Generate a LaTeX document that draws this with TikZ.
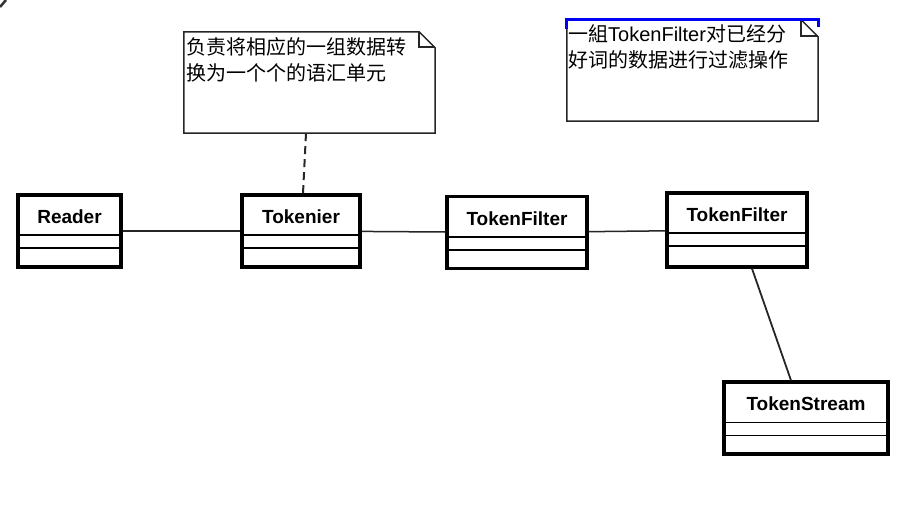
\documentclass[tikz,border=0pt]{standalone}
\usepackage{fontspec}
\setmainfont{Liberation Sans}
\newfontfamily\cjk{Noto Sans CJK SC}
\usetikzlibrary{calc}
\newcommand\umlcls[6]{%
  \node[classbox, minimum width=#4, minimum height=#5] (#1) at (#2,#3) {};
  \node[classname, anchor=base] (#1-name) at ($(#1.north)+(0,30.5)$) {#6};
  \draw[compline] ($(#1.north west)+(0,42)$) -- ($(#1.north east)+(0,42)$);
  \draw[compline] ($(#1.north west)+(0,55)$) -- ($(#1.north east)+(0,55)$);
}
\begin{document}
\begin{tikzpicture}[x=1pt,y=-1pt,
  classbox/.style={draw=black, rectangle, line width=3.2pt, inner sep=0pt, fill=white},
  classname/.style={font=\fontsize{19}{22}\selectfont\bfseries, inner sep=0pt},
  compline/.style={line width=1.8pt, black},
  notearea/.style={rectangle, inner sep=0pt},
  noteline/.style={line width=1.5pt, black!85, line join=miter},
  notetext/.style={font=\fontsize{20}{26}\selectfont, inner sep=0pt, anchor=base west, text=black},
  assoc/.style={line width=1.5pt, black!85},
  dashline/.style={line width=2pt, black!85, dash pattern=on 8pt off 5pt},
]
\useasboundingbox (0,0) rectangle (922,524);
\fill[white] (0,0) rectangle (922,524);

% stray mark top-left
\draw[line width=2.5pt, black!80] (0,7) -- (6,0);

% classes
\umlcls{reader}{69.5}{231}{103}{72}{Reader}
\umlcls{tokenier}{301}{231}{118}{72}{Tokenier}
\umlcls{tf1}{517}{232.5}{140}{72}{TokenFilter}
\umlcls{tf2}{737}{230}{140}{74}{TokenFilter}
\umlcls{ts}{806}{418}{164}{72}{TokenStream}

% note 1
\node[notearea, minimum width=251, minimum height=101] (note1) at (309.5,82.5) {};
\draw[noteline] (note1.north west) -- ($(note1.north east)+(-16,0)$) -- ($(note1.north east)+(0,16)$) -- (note1.south east) -- (note1.south west) -- cycle;
\draw[noteline] ($(note1.north east)+(-16,0)$) -- ($(note1.north east)+(-16,15)$) -- ($(note1.north east)+(0,15)$);
\node[notetext] (note1-l1) at (186,55) {\cjk 负责将相应的一组数据转};
\node[notetext] (note1-l2) at (186,81) {\cjk 换为一个个的语汇单元};

% note 2
\node[notearea, minimum width=251, minimum height=101] (note2) at (692.5,70.5) {};
\draw[noteline] (note2.north west) -- ($(note2.north east)+(-17,0)$) -- ($(note2.north east)+(0,17)$) -- (note2.south east) -- (note2.south west) -- cycle;
\draw[noteline] ($(note2.north east)+(-17,0)$) -- ($(note2.north east)+(-17,16)$) -- ($(note2.north east)+(0,16)$);
\draw[line width=3pt, blue!95!black] ($(note2.north west)+(0,9)$) -- ($(note2.north west)+(0,-0.5)$) -- ($(note2.north east)+(0,-0.5)$) -- ($(note2.north east)+(0,7)$);
\node[notetext] (note2-l1) at (568,41.5) {{\cjk 一組}TokenFilter{\cjk 对已经分}};
\node[notetext] (note2-l2) at (568,67.5) {\cjk 好词的数据进行过滤操作};

% connectors
\draw[dashline] ($(note1.south)+(-3.5,0)$) -- ($(tokenier.north)+(2,0)$);
\draw[assoc] (reader) -- (tokenier);
\draw[assoc] (tokenier) -- (tf1);
\draw[assoc] (tf1) -- (tf2);
\draw[assoc, line width=1.8pt] ($(tf2.south)+(15,0)$) -- ($(ts.north)+(-15,0)$);
\end{tikzpicture}
\end{document}
